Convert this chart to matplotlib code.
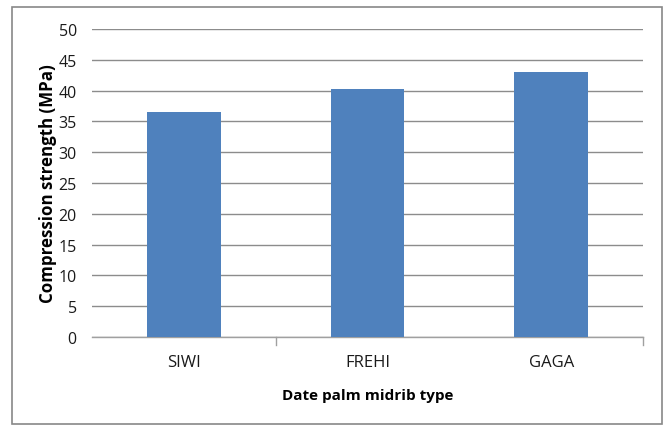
import matplotlib
matplotlib.use("Agg")
import matplotlib.pyplot as plt
from matplotlib.patches import Rectangle

# Compression strength of date palm midrib types
categories = ["SIWI", "FREHI", "GAGA"]
strength = [36.5, 40.3, 43.0]
y_ticks = [0, 5, 10, 15, 20, 25, 30, 35, 40, 45, 50]

plt.rcParams['font.family'] = ['Open Sans', 'DejaVu Sans']

fig = plt.figure(figsize=(6.67, 4.27), dpi=100)
ax = fig.add_axes([0.138, 0.2084, 0.826, 0.7213])

x = list(range(len(categories)))
ax.bar(x, strength, width=0.40, color="#4f81bd", zorder=3)

ax.set_xlim(-0.5, len(categories) - 0.5)
ax.set_ylim(0, 50)
ax.set_yticks(y_ticks)
ax.yaxis.grid(True, color="#8c8c8c", linewidth=1.0, zorder=0)
ax.set_axisbelow(True)

for s in ["top", "right", "left"]:
    ax.spines[s].set_visible(False)
ax.spines["bottom"].set_color("#a0a0a0")
ax.spines["bottom"].set_linewidth(1.0)

ax.tick_params(axis="y", length=0, pad=11, labelsize=11.5, labelcolor="#1a1a1a")
ax.set_xticks(x)
ax.set_xticklabels(categories, fontsize=12, color="#1a1a1a")
ax.tick_params(axis="x", length=0, pad=12)

# small tick marks below the axis at the outer category boundaries
for b in [0.5, len(categories) - 0.5]:
    ax.plot([b, b], [0, -1.3], color="#a0a0a0", linewidth=1.0, clip_on=False)

ax.set_xlabel("Date palm midrib type", fontsize=11, fontweight="bold", labelpad=13)
ax.set_ylabel("Compression strength (MPa)", fontsize=12.2, fontweight="bold", labelpad=1)

# outer chart border
fig.patches.append(Rectangle((12 / 667, 2 / 427), 650 / 667, 417 / 427,
                             transform=fig.transFigure, fill=False,
                             edgecolor="#888888", linewidth=1.2))

fig.savefig("out.png", dpi=100)
